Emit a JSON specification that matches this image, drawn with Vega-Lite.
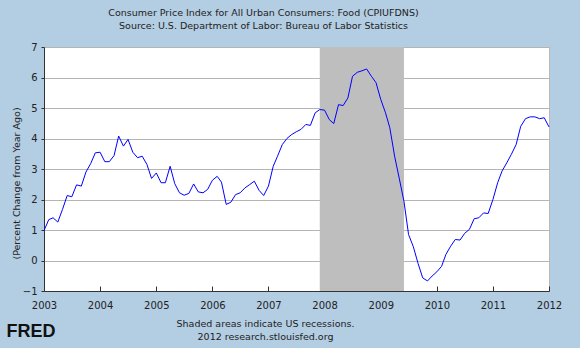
{
  "$schema": "https://vega.github.io/schema/vega-lite/v6.json",
  "width": 505,
  "height": 244,
  "autosize": "none",
  "padding": {"left": 44, "top": 47, "right": 31, "bottom": 57},
  "background": "#B3CDE3",
  "config": {
    "view": {"stroke": "#B8B8B8", "fill": "white"},
    "font": "DejaVu Sans",
    "axisX": {
      "format": "%Y",
      "grid": false,
      "domainColor": "#333333",
      "tickColor": "#333333",
      "tickSize": -5,
      "labelPadding": 14,
      "labelFontSize": 10,
      "labelColor": "#222222",
      "labelFlush": false,
      "labelOverlap": false,
      "titleFontSize": 9.5,
      "titleFontWeight": "normal",
      "titleColor": "#222222",
      "titleX": 221,
      "titleY": 27,
      "titleAnchor": "middle",
      "titleBaseline": "top",
      "titleLineHeight": 13
    },
    "axisY": {
      "grid": true,
      "gridColor": "#B4B4B4",
      "gridWidth": 1,
      "domainColor": "#333333",
      "tickColor": "#333333",
      "tickSize": 3,
      "labelPadding": 4,
      "labelFontSize": 10,
      "labelColor": "#222222",
      "labelOverlap": false,
      "titleFontSize": 9.5,
      "titleFontWeight": "normal",
      "titleColor": "#222222",
      "titleAngle": -90,
      "titleX": -28,
      "titleY": 136,
      "titleAlign": "center",
      "titleBaseline": "middle"
    }
  },
  "title": {
    "text": ["Consumer Price Index for All Urban Consumers: Food (CPIUFDNS)", "Source: U.S. Department of Labor: Bureau of Labor Statistics"],
    "fontSize": 9.5,
    "fontWeight": "normal",
    "color": "#222222",
    "anchor": "middle",
    "frame": "group",
    "dx": -33,
    "offset": 12,
    "lineHeight": 13
  },
  "datasets": {
    "cpi": [
      {"date": "2003-01-01", "value": 0.98}, {"date": "2003-02-01", "value": 1.34}, {"date": "2003-03-01", "value": 1.40}, {"date": "2003-04-01", "value": 1.26},
      {"date": "2003-05-01", "value": 1.67}, {"date": "2003-06-01", "value": 2.13}, {"date": "2003-07-01", "value": 2.09}, {"date": "2003-08-01", "value": 2.48},
      {"date": "2003-09-01", "value": 2.44}, {"date": "2003-10-01", "value": 2.90}, {"date": "2003-11-01", "value": 3.18}, {"date": "2003-12-01", "value": 3.53},
      {"date": "2004-01-01", "value": 3.55}, {"date": "2004-02-01", "value": 3.24}, {"date": "2004-03-01", "value": 3.24}, {"date": "2004-04-01", "value": 3.44},
      {"date": "2004-05-01", "value": 4.08}, {"date": "2004-06-01", "value": 3.75}, {"date": "2004-07-01", "value": 3.97}, {"date": "2004-08-01", "value": 3.55},
      {"date": "2004-09-01", "value": 3.37}, {"date": "2004-10-01", "value": 3.42}, {"date": "2004-11-01", "value": 3.15}, {"date": "2004-12-01", "value": 2.69},
      {"date": "2005-01-01", "value": 2.87}, {"date": "2005-02-01", "value": 2.55}, {"date": "2005-03-01", "value": 2.55}, {"date": "2005-04-01", "value": 3.09},
      {"date": "2005-05-01", "value": 2.52}, {"date": "2005-06-01", "value": 2.22}, {"date": "2005-07-01", "value": 2.14}, {"date": "2005-08-01", "value": 2.20},
      {"date": "2005-09-01", "value": 2.51}, {"date": "2005-10-01", "value": 2.25}, {"date": "2005-11-01", "value": 2.22}, {"date": "2005-12-01", "value": 2.33},
      {"date": "2006-01-01", "value": 2.63}, {"date": "2006-02-01", "value": 2.76}, {"date": "2006-03-01", "value": 2.57}, {"date": "2006-04-01", "value": 1.84},
      {"date": "2006-05-01", "value": 1.91}, {"date": "2006-06-01", "value": 2.16}, {"date": "2006-07-01", "value": 2.22}, {"date": "2006-08-01", "value": 2.38},
      {"date": "2006-09-01", "value": 2.49}, {"date": "2006-10-01", "value": 2.60}, {"date": "2006-11-01", "value": 2.30}, {"date": "2006-12-01", "value": 2.13},
      {"date": "2007-01-01", "value": 2.44}, {"date": "2007-02-01", "value": 3.09}, {"date": "2007-03-01", "value": 3.42}, {"date": "2007-04-01", "value": 3.80},
      {"date": "2007-05-01", "value": 4.00}, {"date": "2007-06-01", "value": 4.13}, {"date": "2007-07-01", "value": 4.22}, {"date": "2007-08-01", "value": 4.30},
      {"date": "2007-09-01", "value": 4.46}, {"date": "2007-10-01", "value": 4.43}, {"date": "2007-11-01", "value": 4.84}, {"date": "2007-12-01", "value": 4.95},
      {"date": "2008-01-01", "value": 4.93}, {"date": "2008-02-01", "value": 4.62}, {"date": "2008-03-01", "value": 4.49}, {"date": "2008-04-01", "value": 5.11},
      {"date": "2008-05-01", "value": 5.08}, {"date": "2008-06-01", "value": 5.33}, {"date": "2008-07-01", "value": 6.04}, {"date": "2008-08-01", "value": 6.17},
      {"date": "2008-09-01", "value": 6.22}, {"date": "2008-10-01", "value": 6.28}, {"date": "2008-11-01", "value": 6.04}, {"date": "2008-12-01", "value": 5.83},
      {"date": "2009-01-01", "value": 5.28}, {"date": "2009-02-01", "value": 4.84}, {"date": "2009-03-01", "value": 4.35}, {"date": "2009-04-01", "value": 3.42},
      {"date": "2009-05-01", "value": 2.70}, {"date": "2009-06-01", "value": 1.94}, {"date": "2009-07-01", "value": 0.85}, {"date": "2009-08-01", "value": 0.45},
      {"date": "2009-09-01", "value": -0.10}, {"date": "2009-10-01", "value": -0.57}, {"date": "2009-11-01", "value": -0.67}, {"date": "2009-12-01", "value": -0.51},
      {"date": "2010-01-01", "value": -0.37}, {"date": "2010-02-01", "value": -0.19}, {"date": "2010-03-01", "value": 0.20}, {"date": "2010-04-01", "value": 0.47},
      {"date": "2010-05-01", "value": 0.69}, {"date": "2010-06-01", "value": 0.67}, {"date": "2010-07-01", "value": 0.89}, {"date": "2010-08-01", "value": 1.02},
      {"date": "2010-09-01", "value": 1.37}, {"date": "2010-10-01", "value": 1.40}, {"date": "2010-11-01", "value": 1.56}, {"date": "2010-12-01", "value": 1.54},
      {"date": "2011-01-01", "value": 2.00}, {"date": "2011-02-01", "value": 2.55}, {"date": "2011-03-01", "value": 2.93}, {"date": "2011-04-01", "value": 3.20},
      {"date": "2011-05-01", "value": 3.48}, {"date": "2011-06-01", "value": 3.80}, {"date": "2011-07-01", "value": 4.40}, {"date": "2011-08-01", "value": 4.65},
      {"date": "2011-09-01", "value": 4.71}, {"date": "2011-10-01", "value": 4.71}, {"date": "2011-11-01", "value": 4.65}, {"date": "2011-12-01", "value": 4.68},
      {"date": "2012-01-01", "value": 4.38}
    ],
    "rec": [{"start": "2007-12-01", "end": "2009-06-01"}]
  },
  "layer": [
    {
      "data": {"name": "rec"},
      "mark": {"type": "rect", "color": "#BEBEBE", "opacity": 1},
      "encoding": {
        "x": {
          "field": "start",
          "type": "temporal",
          "axis": {
            "title": ["Shaded areas indicate US recessions.", "2012 research.stlouisfed.org"],
            "tickCount": {"interval": "year", "step": 1}
          }
        },
        "x2": {"field": "end"}
      }
    },
    {
      "data": {"name": "cpi"},
      "mark": {"type": "line", "color": "#0000FF", "strokeWidth": 1},
      "encoding": {
        "x": {
          "field": "date",
          "type": "temporal",
          "scale": {"domain": [{"year": 2003, "month": 1, "date": 1}, {"year": 2012, "month": 1, "date": 1}]},
          "axis": {
            "title": ["Shaded areas indicate US recessions.", "2012 research.stlouisfed.org"],
            "tickCount": {"interval": "year", "step": 1}
          }
        },
        "y": {
          "field": "value",
          "type": "quantitative",
          "scale": {"domain": [-1, 7], "nice": false, "zero": false},
          "axis": {
            "title": "(Percent Change from Year Ago)",
            "values": [-1, 0, 1, 2, 3, 4, 5, 6, 7]
          }
        }
      }
    },
    {
      "data": {"values": [{"logo": "FRED"}]},
      "mark": {"type": "text", "fontSize": 18, "fontWeight": "bold", "font": "Liberation Sans", "color": "#111111", "dx": -13, "dy": 41, "align": "center", "baseline": "middle"},
      "encoding": {
        "x": {
          "datum": {"year": 2003, "month": 1, "date": 1},
          "type": "temporal",
          "axis": {
            "title": ["Shaded areas indicate US recessions.", "2012 research.stlouisfed.org"],
            "tickCount": {"interval": "year", "step": 1}
          }
        },
        "y": {
          "datum": -1,
          "type": "quantitative",
          "axis": {
            "title": "(Percent Change from Year Ago)",
            "values": [-1, 0, 1, 2, 3, 4, 5, 6, 7]
          }
        },
        "text": {"field": "logo"}
      }
    }
  ]
}
